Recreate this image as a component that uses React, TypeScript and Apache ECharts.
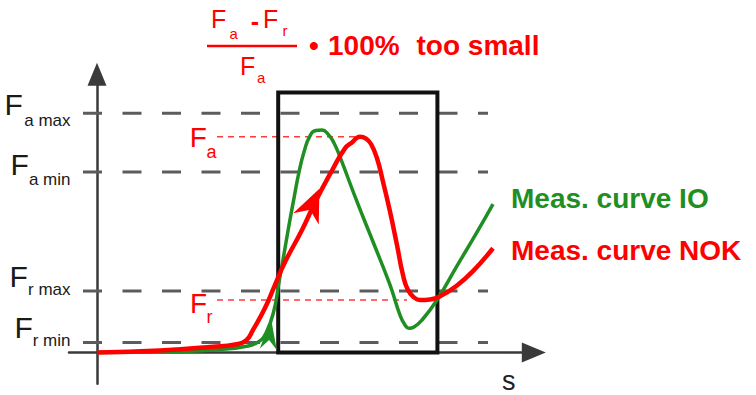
import React, { useEffect, useRef } from 'react';
import * as echarts from 'echarts';

const FONT = '"Liberation Sans", Arial, Helvetica, sans-serif';
const GREEN = '#1f8f23';
const RED = '#ff0000';

// measured curve IO (green): travel s vs force F
const greenS = [0, 20.75, 30.75, 37, 40.25, 42.25, 44.25, 45.5, 46.75, 48, 49.25, 50.5, 51.75, 53.25, 54.75, 56.25, 57.75, 59.25, 60.75, 65, 69, 73.25, 75.75, 77, 78, 79.25, 81.25, 85, 90, 95, 99];
const greenF = [0, 0.4, 1.15, 2.3, 4.0, 7.5, 16.3, 27.1, 37.9, 49.0, 59.4, 69.4, 77.1, 83.3, 85.4, 85.6, 84.0, 80.6, 75.2, 58.0, 42.6, 26.0, 14.4, 10.6, 9.3, 9.8, 12.5, 20.2, 33.3, 46.3, 57.1];

// measured curve NOK (red)
const redS = [0, 15.75, 29, 34.5, 37.25, 39, 42, 44.5, 47, 51.25, 54.5, 58.75, 62, 63.75, 65.75, 67.25, 68.5, 70, 71.5, 73.25, 75, 76.5, 77.75, 79.25, 80.75, 83.25, 85.75, 90, 94, 99];
const redF = [0, 0.8, 2.2, 3.1, 4.6, 8.7, 17.1, 26.0, 34.8, 47.1, 57.7, 70.0, 78.5, 80.8, 83.0, 82.3, 80.2, 74.7, 65.7, 54.2, 41.3, 29.8, 24.0, 21.2, 20.2, 20.4, 21.6, 25.8, 31.3, 40.1];

// limit levels: Fa max, Fa min, Fr max, Fr min
const levelSubs = ['a max', 'a min', 'r max', 'r min'];
const levelF = [92.0, 69.4, 23.7, 3.8];
const levelRange = [-3.5, 97.75];

// actual values of the NOK curve
const actualFa = 83.0;
const actualFr = 20.2;
const faLineRange = [30, 65.75];
const frLineRange = [30, 77.5];

// evaluation window
const windowS = [45.3, 85.1];
const windowF = [0, 100];

// direction arrow tips on the curves
const redArrowTip = [55.6, 63.0];
const greenArrowTip = [43.5, 13.1];

const zip = (a: number[], b: number[]) => a.map((v, i) => [v, b[i]]);

const txt = (text: string, x: number, base: number, size: number, fill: string, weight = 'normal', align = 'left') => ({
  type: 'text',
  x,
  y: base - 0.3465 * size,
  silent: true,
  z: 100,
  style: {
    text,
    fill,
    font: `${weight} ${size}px ${FONT}`,
    textAlign: align,
    align,
    textVerticalAlign: 'middle',
    verticalAlign: 'middle',
  },
});

const arrowSeries = (tip: number[], color: string, angleDeg: number, len: number, halfW: number) => ({
  type: 'custom',
  silent: true,
  z: 7,
  data: [tip],
  renderItem: (params: any, api: any) => {
    const p = api.coord([api.value(0), api.value(1)]);
    const a = (angleDeg * Math.PI) / 180;
    const ux = Math.sin(a);
    const uy = -Math.cos(a);
    const nx = Math.cos(a);
    const ny = Math.sin(a);
    const bx = p[0] - ux * len;
    const by = p[1] - uy * len;
    const mx = p[0] - ux * len * 0.7;
    const my = p[1] - uy * len * 0.7;
    return {
      type: 'polygon',
      shape: {
        points: [
          [p[0], p[1]],
          [bx + nx * halfW, by + ny * halfW],
          [mx, my],
          [bx - nx * halfW, by - ny * halfW],
        ],
      },
      style: { fill: color },
    };
  },
});

export default function App() {
  const ref = useRef<HTMLDivElement>(null);
  useEffect(() => {
    if (!ref.current) return;
    const chart = echarts.init(ref.current, undefined, { renderer: 'svg' });
    const axisCommon = {
      type: 'value',
      axisTick: { show: false },
      axisLabel: { show: false },
      splitLine: { show: false },
    };
    const levelSeries = levelF.map((f) => ({
      type: 'line',
      data: [[levelRange[0], f], [levelRange[1], f]],
      symbol: 'none',
      silent: true,
      z: 1,
      lineStyle: { color: '#5c5c5c', width: 3, type: [19, 20.5] },
    }));
    const leftLabels: any[] = [];
    const fBase = [115, 175, 287, 338];
    const fX = [4.6, 10.6, 9.6, 14.6];
    const subBase = [126, 185, 295, 346];
    levelSubs.forEach((s, i) => {
      leftLabels.push(txt('F', fX[i], fBase[i], 30, '#1a1a1a'));
      leftLabels.push(txt(s, 70.5, subBase[i], 17, '#1a1a1a', 'normal', 'right'));
    });
    const option = {
      animation: false,
      grid: { left: 69, top: 74.3, width: 464.8, height: 309.4, containLabel: false },
      xAxis: {
        ...axisCommon,
        min: -7,
        max: 109.2,
        axisLine: { show: true, onZero: true, symbol: ['none', 'triangle'], symbolSize: [20, 24], lineStyle: { color: '#3a3a3a', width: 2.5 } },
      },
      yAxis: {
        ...axisCommon,
        min: -12,
        max: 107,
        axisLine: { show: true, onZero: true, symbol: ['none', 'triangle'], symbolSize: [19, 23], lineStyle: { color: '#3a3a3a', width: 2.5 } },
      },
      series: [
        ...levelSeries,
        {
          type: 'line',
          data: [[faLineRange[0], actualFa], [faLineRange[1], actualFa]],
          symbol: 'none',
          silent: true,
          z: 2,
          lineStyle: { color: '#ff3b3b', width: 1.5, type: [6, 5] },
        },
        {
          type: 'line',
          data: [[frLineRange[0], actualFr], [frLineRange[1], actualFr]],
          symbol: 'none',
          silent: true,
          z: 2,
          lineStyle: { color: '#ff3b3b', width: 1.5, type: [6, 5] },
        },
        {
          type: 'line',
          data: [
            [windowS[0], windowF[0]],
            [windowS[0], windowF[1]],
            [windowS[1], windowF[1]],
            [windowS[1], windowF[0]],
            [windowS[0], windowF[0]],
          ],
          symbol: 'none',
          silent: true,
          z: 3,
          lineStyle: { color: '#111111', width: 4, join: 'miter', cap: 'square' },
        },
        {
          type: 'line',
          data: zip(greenS, greenF),
          symbol: 'none',
          smooth: 0.5,
          silent: true,
          z: 4,
          lineStyle: { color: GREEN, width: 3.5 },
        },
        {
          type: 'line',
          data: zip(redS, redF),
          symbol: 'none',
          smooth: 0.5,
          silent: true,
          z: 5,
          lineStyle: { color: RED, width: 4.5 },
        },
        arrowSeries(redArrowTip, RED, 24, 33, 14),
        arrowSeries(greenArrowTip, GREEN, 5, 31, 8.5),
      ],
      graphic: [
        ...leftLabels,
        // NOK curve actual values
        txt('F', 189.8, 147, 28, RED),
        txt('a', 206.5, 158, 18, RED),
        txt('F', 190, 313, 28, RED),
        txt('r', 206.5, 323, 18, RED),
        // formula
        txt('F', 211, 28, 25, RED),
        txt('a', 229.5, 39, 15, RED),
        txt('-', 255, 30, 25, RED, 'bold', 'center'),
        txt('F', 263, 28, 25, RED),
        txt('r', 282.5, 36, 15, RED),
        {
          type: 'line',
          silent: true,
          z: 100,
          shape: { x1: 207, y1: 46, x2: 297, y2: 46 },
          style: { stroke: RED, lineWidth: 2.5 },
        },
        txt('F', 240, 75, 25, RED),
        txt('a', 257, 83, 15, RED),
        txt('\u2022', 314, 55, 28, RED, 'bold', 'center'),
        txt('100%', 328, 55, 28, RED, 'bold'),
        txt('too small', 416.5, 55, 28, RED, 'bold'),
        // legend
        txt('Meas. curve IO', 511, 208, 28, GREEN, 'bold'),
        txt('Meas. curve NOK', 511, 260, 28, RED, 'bold'),
        // axis name
        txt('s', 502, 390, 27, '#222222'),
      ],
    };
    chart.setOption(option as any);
    return () => chart.dispose();
  }, []);
  return <div ref={ref} style={{ position: 'absolute', left: 0, top: 0, width: 756, height: 395, background: '#ffffff' }} />;
}
